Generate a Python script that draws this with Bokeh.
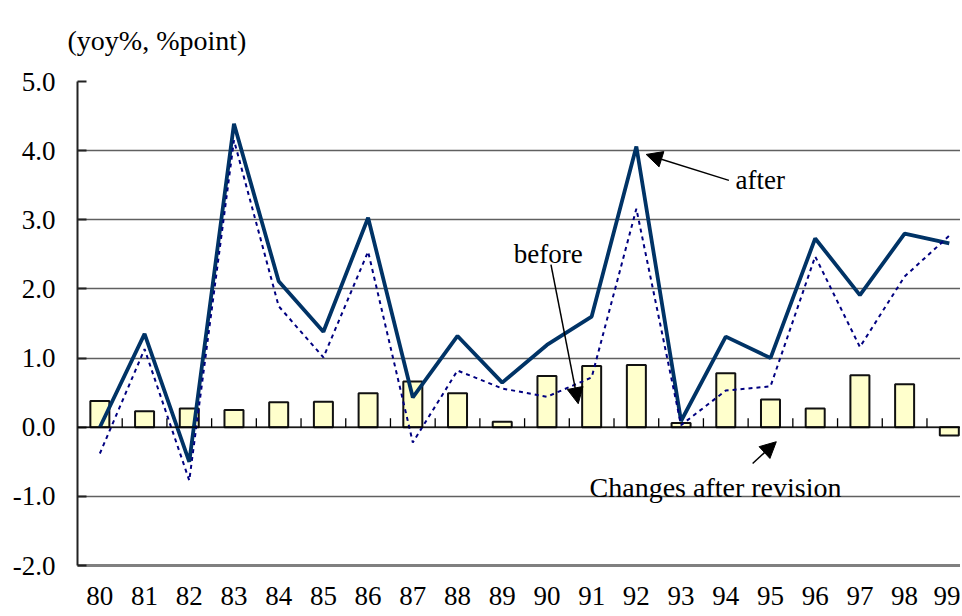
from bokeh.plotting import figure
from bokeh.models import (Range1d, FixedTicker, PrintfTickFormatter, Span, Label,
                          Arrow, NormalHead, ColumnDataSource)
from bokeh.embed import file_html
from bokeh.resources import INLINE

years = ["80", "81", "82", "83", "84", "85", "86", "87", "88", "89",
         "90", "91", "92", "93", "94", "95", "96", "97", "98", "99"]
after = [0.00, 1.35, -0.50, 4.39, 2.11, 1.38, 3.03, 0.43, 1.32, 0.645,
         1.19, 1.60, 4.06, 0.09, 1.31, 1.00, 2.73, 1.91, 2.80, 2.66]
before = [-0.38, 1.13, -0.77, 4.15, 1.75, 1.01, 2.54, -0.22, 0.82, 0.56,
          0.44, 0.72, 3.16, 0.03, 0.53, 0.59, 2.47, 1.16, 2.18, 2.77]
changes = [0.38, 0.23, 0.27, 0.25, 0.36, 0.37, 0.49, 0.66, 0.49, 0.08,
           0.74, 0.885, 0.90, 0.06, 0.78, 0.40, 0.27, 0.75, 0.62, -0.12]
y_ticks = [-2, -1, 0, 1, 2, 3, 4, 5]
unit_label = "(yoy%, %point)"

FONT = "Liberation Serif"
xs = list(range(len(years)))
src = ColumnDataSource(dict(x=xs, after=after, before=before, changes=changes))

p = figure(width=960, height=616, output_backend="svg", toolbar_location=None,
           x_range=Range1d(-0.5, 19.25), y_range=Range1d(-2, 5),
           min_border_left=77, min_border_top=79, min_border_bottom=51, min_border_right=0,
           title=unit_label)
p.title.text_font = FONT
p.title.text_font_size = "28px"
p.title.text_font_style = "normal"
p.title.text_color = "black"
p.title.align = "left"
p.title.vertical_align = "top"
p.title.offset = -10
p.title.standoff = 48

p.outline_line_color = None
p.background_fill_color = "white"

# axes
p.yaxis.ticker = FixedTicker(ticks=y_ticks)
p.yaxis.formatter = PrintfTickFormatter(format="%.1f")
p.yaxis.major_label_text_font = FONT
p.yaxis.major_label_text_font_size = "27px"
p.yaxis.major_label_text_color = "black"
p.yaxis.axis_line_color = "#222222"
p.yaxis.axis_line_width = 2
p.yaxis.major_tick_in = 9
p.yaxis.major_tick_out = 0
p.yaxis.major_tick_line_color = "#222222"
p.yaxis.major_tick_line_width = 2
p.yaxis.minor_tick_line_color = None
p.yaxis.major_label_standoff = 22

p.xaxis.ticker = FixedTicker(ticks=xs)
p.xaxis.major_label_overrides = {i: y for i, y in zip(xs, years)}
p.xaxis.major_label_text_font = FONT
p.xaxis.major_label_text_font_size = "27px"
p.xaxis.major_label_text_color = "black"
p.xaxis.axis_line_color = "#808080"
p.xaxis.axis_line_width = 3
p.xaxis.major_tick_line_color = None
p.xaxis.major_tick_out = 0
p.xaxis.major_tick_in = 0
p.xaxis.minor_tick_line_color = None
p.xaxis.minor_tick_out = 0
p.xaxis.major_label_standoff = 21

p.xgrid.grid_line_color = None
p.ygrid.ticker = FixedTicker(ticks=y_ticks)
p.ygrid.grid_line_color = "#606060"
p.ygrid.grid_line_width = 1.4

# bars
p.vbar(x="x", top="changes", bottom=0, width=0.425, source=src,
       fill_color="#FFFFCC", line_color="#111111", line_width=2)

# zero line with category tick marks
p.add_layout(Span(location=0, dimension="width", line_color="black", line_width=1.2))
p.segment(x0=[i + 0.5 for i in xs], y0=0, x1=[i + 0.5 for i in xs], y1=0.13,
          line_color="black", line_width=1.3)

# lines
p.line("x", "after", source=src, line_color="#003366", line_width=3.8)
p.line("x", "before", source=src, line_color="#000080", line_width=2, line_dash="4 4")

# annotations
p.add_layout(Arrow(end=NormalHead(size=16, fill_color="black", line_color="black"),
                   x_start=14.07, y_start=3.57, x_end=12.22, y_end=3.945,
                   line_color="black", line_width=1.5))
p.add_layout(Label(x=14.22, y=3.575, text="after", text_font=FONT, text_font_size="27px",
                   text_baseline="middle", text_align="left", text_color="black"))

p.add_layout(Arrow(end=NormalHead(size=16, fill_color="black", line_color="black"),
                   x_start=10.09, y_start=2.35, x_end=10.70, y_end=0.34,
                   line_color="black", line_width=1.5))
p.add_layout(Label(x=10.03, y=2.51, text="before", text_font=FONT, text_font_size="27px",
                   text_baseline="middle", text_align="center", text_color="black"))

p.add_layout(Arrow(end=NormalHead(size=16, fill_color="black", line_color="black"),
                   x_start=14.6, y_start=-0.525, x_end=15.13, y_end=-0.21,
                   line_color="black", line_width=1.5))
p.add_layout(Label(x=13.77, y=-0.87, text="Changes after revision", text_font=FONT,
                   text_font_size="28px", text_baseline="middle", text_align="center",
                   text_color="black"))

open("out.html", "w").write(file_html(p, INLINE))
